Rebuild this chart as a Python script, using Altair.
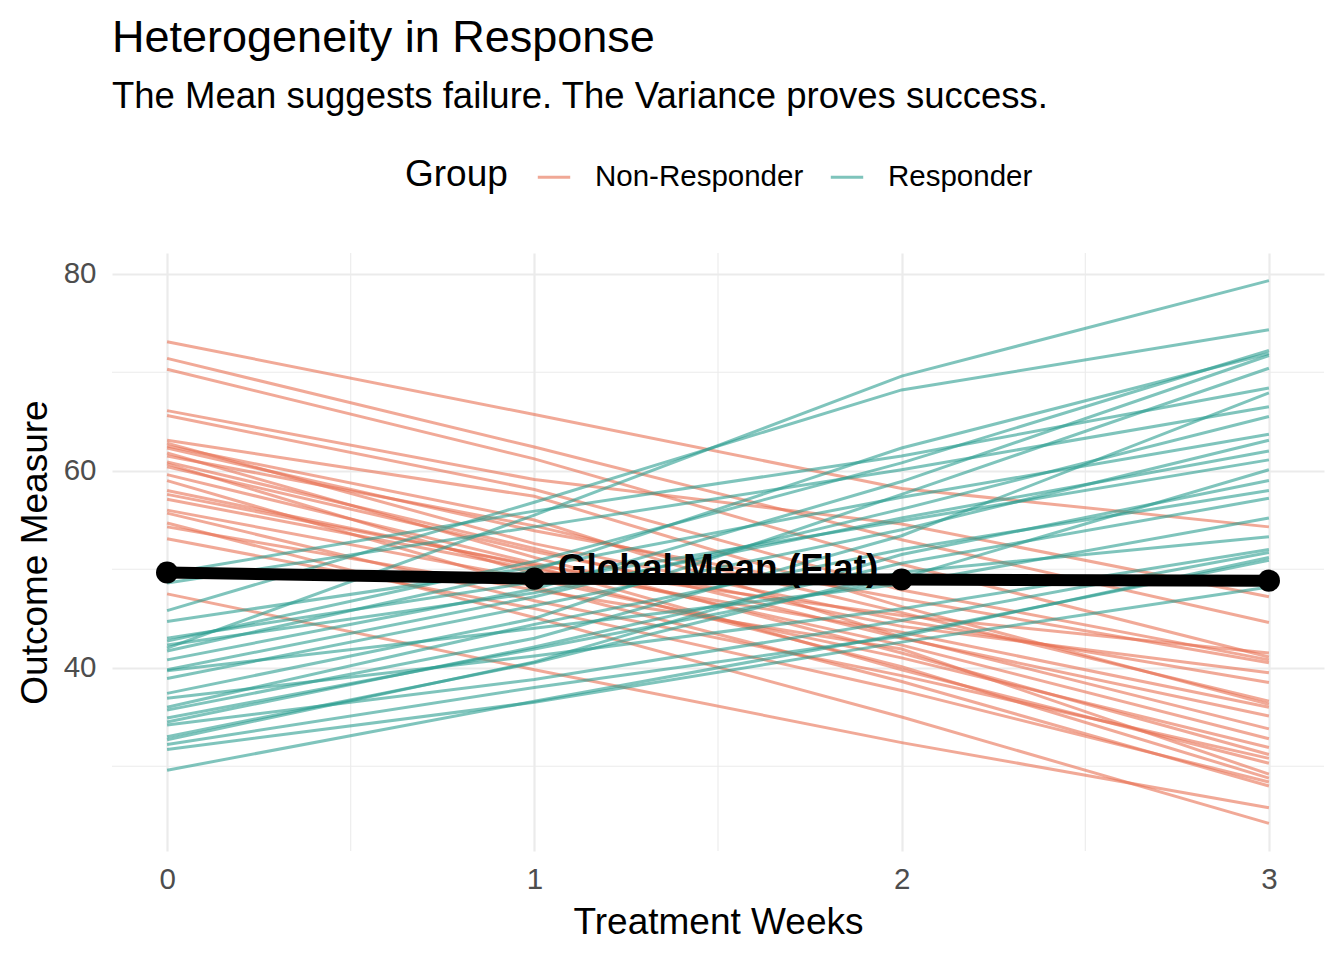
import altair as alt
import pandas as pd

weeks = [0, 1, 2, 3]

# Non-Responder trajectories (value at week 0, 1, 2, 3)
nonresp_w0 = [73.1, 71.4, 70.3, 66.1, 65.6, 63.1, 62.8, 62.5, 62.3, 61.8, 61.5, 58.0, 60.9,
              60.7, 60.4, 59.6, 59.0, 56.0, 57.6, 57.1, 55.7, 54.7, 54.3, 53.1, 47.5]
nonresp_w1 = [65.7, 62.4, 61.2, 59.1, 58.1, 57.4, 52.6, 55.0, 53.9, 51.2, 54.4, 50.3, 52.1,
              49.5, 51.8, 50.6, 48.2, 49.0, 50.4, 50.0, 46.8, 45.1, 47.9, 46.0, 39.8]
nonresp_w2 = [58.2, 53.0, 50.5, 54.6, 47.9, 46.2, 44.8, 43.1, 47.0, 41.5, 45.6, 39.8, 43.0,
              40.1, 44.2, 42.3, 38.6, 41.0, 45.3, 43.6, 39.2, 35.0, 41.9, 37.7, 32.4]
nonresp_w3 = [54.3, 44.6, 41.1, 47.2, 40.8, 36.3, 38.5, 33.8, 40.5, 31.2, 36.6, 30.3, 35.1,
              28.8, 39.5, 32.8, 28.0, 31.9, 41.5, 36.0, 30.8, 24.2, 29.2, 28.4, 25.8]

# Responder trajectories
resp_w0 = [49.6, 48.6, 42.0, 45.8, 44.7, 43.0, 42.7, 42.3, 41.7, 36.0, 40.8, 34.5, 39.8,
           39.7, 38.9, 33.0, 37.4, 36.9, 35.7, 34.9, 34.2, 32.7, 32.2, 31.7, 29.6]
resp_w1 = [55.9, 54.3, 55.5, 56.8, 50.2, 48.7, 50.8, 47.6, 49.9, 44.4, 48.0, 42.1, 47.2,
           44.0, 46.3, 40.5, 45.0, 41.2, 43.0, 41.9, 38.8, 40.6, 38.0, 36.5, 36.6]
resp_w2 = [61.5, 60.1, 69.6, 68.2, 57.3, 54.9, 60.8, 55.2, 62.3, 52.0, 58.9, 50.6, 56.1,
           48.5, 54.0, 49.7, 57.6, 46.0, 53.4, 49.1, 44.8, 51.5, 43.2, 42.6, 43.4]
resp_w3 = [68.4, 66.5, 79.3, 74.3, 63.7, 61.1, 72.2, 62.0, 71.9, 58.0, 71.7, 57.2, 65.5,
           55.2, 63.1, 53.3, 70.4, 52.0, 67.9, 60.1, 51.7, 59.0, 51.2, 48.2, 50.9]

groups = ["Non-Responder", "Responder"]
group_colors = ["#E76F51", "#2A9D8F"]
label_text = ["Global Mean (Flat)"]
label_week = [1.5]
label_value = [50.0]
minor_x = [0.5, 1.5, 2.5]
minor_y = [30, 50, 70]

rows = []
for gname, series in [("Non-Responder", [nonresp_w0, nonresp_w1, nonresp_w2, nonresp_w3]),
                      ("Responder", [resp_w0, resp_w1, resp_w2, resp_w3])]:
    for i in range(len(series[0])):
        for w, vals in zip(weeks, series):
            rows.append({"id": f"{gname}-{i}", "Group": gname, "week": w, "value": vals[i]})
df = pd.DataFrame(rows)

FONT = "Liberation Sans"
xscale = alt.Scale(domain=[-0.15, 3.15], nice=False, zero=False)
yscale = alt.Scale(domain=[21.4, 82.1], nice=False, zero=False)

xaxis = alt.Axis(values=weeks, format="d", grid=True, gridColor="#EBEBEB", gridWidth=2.2,
                 domain=False, ticks=False, labelPadding=14, titlePadding=11,
                 labelFontSize=29.5, labelColor="#4D4D4D", titleFontSize=37,
                 titleFontWeight="normal", titleColor="black", labelFont=FONT, titleFont=FONT)
yaxis = alt.Axis(values=[40, 60, 80], grid=True, gridColor="#EBEBEB", gridWidth=2.2,
                 domain=False, ticks=False, labelPadding=16, titlePadding=9,
                 labelFontSize=29.5, labelColor="#4D4D4D", titleFontSize=37,
                 titleFontWeight="normal", titleColor="black", labelFont=FONT, titleFont=FONT)


def X():
    return alt.X("week:Q", scale=xscale, title="Treatment Weeks", axis=xaxis)


def Y(field="value:Q"):
    return alt.Y(field, scale=yscale, title="Outcome Measure", axis=yaxis)


minor_v = alt.Chart(pd.DataFrame({"week": minor_x})).mark_rule(
    color="#EBEBEB", strokeWidth=1.1).encode(x=X())
minor_h = alt.Chart(pd.DataFrame({"value": minor_y})).mark_rule(
    color="#EBEBEB", strokeWidth=1.1).encode(y=Y())

lines = alt.Chart(df).mark_line(strokeWidth=3, opacity=0.6).encode(
    x=X(),
    y=Y(),
    detail="id:N",
    color=alt.Color("Group:N", scale=alt.Scale(domain=groups, range=group_colors),
                    legend=alt.Legend(title="Group", orient="none", direction="horizontal",
                                      legendX=293, legendY=-94, titleOrient="left",
                                      titleFontSize=37, titleFontWeight="normal", titleFont=FONT,
                                      titleColor="black", labelFontSize=29.5, labelFont=FONT,
                                      labelColor="black", labelLimit=500, symbolType="stroke",
                                      symbolSize=1050, symbolStrokeWidth=3, symbolOpacity=0.6,
                                      labelOffset=23, columnPadding=20, titlePadding=28)),
)

label = alt.Chart(pd.DataFrame({"week": label_week, "value": label_value, "label": label_text})).mark_text(
    fontSize=37, fontWeight="bold", font=FONT, color="black", align="center", baseline="middle"
).encode(x=X(), y=Y(), text="label:N")

mean_line = alt.Chart(df).mark_line(color="black", strokeWidth=12).encode(
    x=X(), y=Y("mean(value):Q"))
mean_pts = alt.Chart(df).mark_circle(color="black", opacity=1, size=490).encode(
    x=X(), y=Y("mean(value):Q"))

chart = alt.layer(minor_v, minor_h, lines, label, mean_line, mean_pts).properties(
    width=1212, height=598,
    background="white",
    title=alt.TitleParams(text="Heterogeneity in Response",
                          subtitle="The Mean suggests failure. The Variance proves success.",
                          anchor="start", frame="group", fontSize=45, fontWeight="normal",
                          font=FONT, color="black", subtitleFont=FONT, subtitleFontSize=36.5,
                          subtitleColor="black", subtitlePadding=18, offset=44),
    padding={"left": 8, "top": 7, "right": 5, "bottom": 5},
).configure_view(stroke="transparent", strokeWidth=0)

chart.save("out.html", embed_options={"renderer": "svg", "actions": False})
